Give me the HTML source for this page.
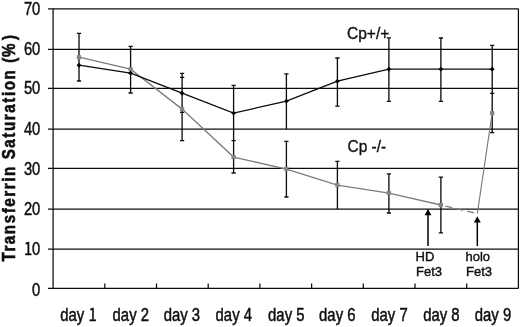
<!DOCTYPE html><html><head><meta charset="utf-8"><title>Transferrin Saturation</title>
<style>html,body{margin:0;padding:0;background:#fff}svg{display:block}text{font-family:"Liberation Sans",sans-serif;fill:#111}</style></head><body>
<svg width="520" height="327" viewBox="0 0 520 327">
<defs><filter id="soft" x="0" y="0" width="100%" height="100%" filterUnits="objectBoundingBox"><feGaussianBlur stdDeviation="0.32"/></filter></defs>
<rect width="520" height="327" fill="#fff"/>
<g filter="url(#soft)">
<rect width="520" height="327" fill="#fff"/>
<g stroke="#0c0c0c" stroke-width="1.25" fill="none">
<line x1="48.00" y1="288.45" x2="518.40" y2="288.45"/>
<line x1="48.00" y1="249.00" x2="518.40" y2="249.00"/>
<line x1="48.00" y1="209.00" x2="518.40" y2="209.00"/>
<line x1="48.00" y1="168.30" x2="518.40" y2="168.30"/>
<line x1="48.00" y1="129.00" x2="518.40" y2="129.00"/>
<line x1="48.00" y1="88.46" x2="518.40" y2="88.46"/>
<line x1="48.00" y1="49.25" x2="518.40" y2="49.25"/>
<line x1="48.00" y1="8.77" x2="518.40" y2="8.77"/>
<line x1="53.10" y1="8.77" x2="53.10" y2="288.45"/>
<line x1="518.40" y1="8.77" x2="518.40" y2="288.45"/>
<line x1="104.80" y1="288.45" x2="104.80" y2="283.45"/>
<line x1="156.50" y1="288.45" x2="156.50" y2="283.45"/>
<line x1="208.20" y1="288.45" x2="208.20" y2="283.45"/>
<line x1="259.90" y1="288.45" x2="259.90" y2="283.45"/>
<line x1="311.60" y1="288.45" x2="311.60" y2="283.45"/>
<line x1="363.30" y1="288.45" x2="363.30" y2="283.45"/>
<line x1="415.00" y1="288.45" x2="415.00" y2="283.45"/>
<line x1="466.70" y1="288.45" x2="466.70" y2="283.45"/>
</g>
<path d="M79.00 33.30V81.00M76.90 33.30H81.10M76.90 81.00H81.10M130.60 46.30V93.00M128.50 46.30H132.70M128.50 93.00H132.70M182.10 73.30V140.70M180.00 73.30H184.20M180.00 77.30H184.20M180.00 112.30H184.20M180.00 140.70H184.20M233.60 85.30V173.00M231.50 85.30H235.70M231.50 140.70H235.70M231.50 173.00H235.70M286.40 73.80V129.30M286.40 141.30V197.00M284.30 73.80H288.50M284.30 141.30H288.50M284.30 197.00H288.50M337.40 58.00V106.10M337.40 161.30V209.30M335.30 58.00H339.50M335.30 106.10H339.50M335.30 161.30H339.50M388.90 37.90V101.30M388.90 173.80V213.00M386.80 37.90H391.00M386.80 101.30H391.00M386.80 173.80H391.00M386.80 213.00H391.00M440.90 38.00V101.30M440.90 177.20V232.90M438.80 38.00H443.00M438.80 101.30H443.00M438.80 177.20H443.00M438.80 232.90H443.00M492.20 45.30V132.60M490.10 45.30H494.30M490.10 93.40H494.30M490.10 132.60H494.30" stroke="#0a0a0a" stroke-width="1.32" fill="none"/>
<polyline points="79.00,57.19 130.60,69.17 182.10,109.12 233.60,157.06 286.40,169.05 337.40,185.03 388.90,193.02 440.90,205.00" fill="none" stroke="#7c7c7c" stroke-width="1.3"/>
<line x1="445.38" y1="206.06" x2="477.3" y2="213.6" stroke="#7c7c7c" stroke-width="1.3" stroke-dasharray="7 4.2"/>
<line x1="477.3" y1="213.6" x2="492.20" y2="113.12" stroke="#7c7c7c" stroke-width="1.15"/>
<rect x="76.80" y="54.99" width="4.4" height="4.4" rx="0.8" fill="#858585"/>
<rect x="128.40" y="66.97" width="4.4" height="4.4" rx="0.8" fill="#858585"/>
<rect x="179.90" y="106.92" width="4.4" height="4.4" rx="0.8" fill="#858585"/>
<rect x="231.40" y="154.86" width="4.4" height="4.4" rx="0.8" fill="#858585"/>
<rect x="284.20" y="166.85" width="4.4" height="4.4" rx="0.8" fill="#858585"/>
<rect x="335.20" y="182.83" width="4.4" height="4.4" rx="0.8" fill="#858585"/>
<rect x="386.70" y="190.82" width="4.4" height="4.4" rx="0.8" fill="#858585"/>
<rect x="438.70" y="202.81" width="4.4" height="4.4" rx="0.8" fill="#858585"/>
<rect x="490.00" y="110.92" width="4.4" height="4.4" rx="0.8" fill="#858585"/>
<polyline points="79.00,65.18 130.60,73.17 182.10,93.14 233.60,113.12 286.40,101.13 337.40,81.16 388.90,69.17 440.90,69.17 492.20,69.17" fill="none" stroke="#0a0a0a" stroke-width="1.2"/>
<path d="M79.00 62.73L81.45 65.18L79.00 67.63L76.55 65.18Z" fill="#000"/>
<path d="M130.60 70.72L133.05 73.17L130.60 75.62L128.15 73.17Z" fill="#000"/>
<path d="M182.10 90.69L184.55 93.14L182.10 95.59L179.65 93.14Z" fill="#000"/>
<path d="M233.60 110.67L236.05 113.12L233.60 115.57L231.15 113.12Z" fill="#000"/>
<path d="M286.40 98.68L288.85 101.13L286.40 103.58L283.95 101.13Z" fill="#000"/>
<path d="M337.40 78.71L339.85 81.16L337.40 83.61L334.95 81.16Z" fill="#000"/>
<path d="M388.90 66.72L391.35 69.17L388.90 71.62L386.45 69.17Z" fill="#000"/>
<path d="M440.90 66.72L443.35 69.17L440.90 71.62L438.45 69.17Z" fill="#000"/>
<path d="M492.20 66.72L494.65 69.17L492.20 71.62L489.75 69.17Z" fill="#000"/>
<path d="M428.0 246V213.0" stroke="#000" stroke-width="1.5" fill="none"/>
<path d="M428.0 209.0L431.45 215.2H424.55Z" fill="#000"/>
<path d="M477.3 246V220.3" stroke="#000" stroke-width="1.5" fill="none"/>
<path d="M477.3 216.3L480.75 222.5H473.85Z" fill="#000"/>
<text x="32.10" y="295.55" font-size="18" textLength="8.2" lengthAdjust="spacingAndGlyphs" stroke="#111" stroke-width="0.5">0</text>
<text x="23.90" y="255.00" font-size="18" textLength="16.4" lengthAdjust="spacingAndGlyphs" stroke="#111" stroke-width="0.5"><tspan font-family="Noto Sans CJK SC, Liberation Sans, sans-serif">1</tspan>0</text>
<text x="23.90" y="215.00" font-size="18" textLength="16.4" lengthAdjust="spacingAndGlyphs" stroke="#111" stroke-width="0.5">20</text>
<text x="23.90" y="175.40" font-size="18" textLength="16.4" lengthAdjust="spacingAndGlyphs" stroke="#111" stroke-width="0.5">30</text>
<text x="23.90" y="135.00" font-size="18" textLength="16.4" lengthAdjust="spacingAndGlyphs" stroke="#111" stroke-width="0.5">40</text>
<text x="23.90" y="94.46" font-size="18" textLength="16.4" lengthAdjust="spacingAndGlyphs" stroke="#111" stroke-width="0.5">50</text>
<text x="23.90" y="55.25" font-size="18" textLength="16.4" lengthAdjust="spacingAndGlyphs" stroke="#111" stroke-width="0.5">60</text>
<text x="23.90" y="14.77" font-size="18" textLength="16.4" lengthAdjust="spacingAndGlyphs" stroke="#111" stroke-width="0.5">70</text>
<text x="60.30" y="321.4" font-size="18" textLength="36.4" lengthAdjust="spacingAndGlyphs" stroke="#111" stroke-width="0.5">day <tspan font-family="Noto Sans CJK SC, Liberation Sans, sans-serif">1</tspan></text>
<text x="112.60" y="321.4" font-size="18" textLength="36.4" lengthAdjust="spacingAndGlyphs" stroke="#111" stroke-width="0.5">day 2</text>
<text x="163.70" y="321.4" font-size="18" textLength="36.4" lengthAdjust="spacingAndGlyphs" stroke="#111" stroke-width="0.5">day 3</text>
<text x="215.60" y="321.4" font-size="18" textLength="36.4" lengthAdjust="spacingAndGlyphs" stroke="#111" stroke-width="0.5">day 4</text>
<text x="268.10" y="321.4" font-size="18" textLength="36.4" lengthAdjust="spacingAndGlyphs" stroke="#111" stroke-width="0.5">day 5</text>
<text x="319.10" y="321.4" font-size="18" textLength="36.4" lengthAdjust="spacingAndGlyphs" stroke="#111" stroke-width="0.5">day 6</text>
<text x="371.30" y="321.4" font-size="18" textLength="36.4" lengthAdjust="spacingAndGlyphs" stroke="#111" stroke-width="0.5">day 7</text>
<text x="423.20" y="321.4" font-size="18" textLength="36.4" lengthAdjust="spacingAndGlyphs" stroke="#111" stroke-width="0.5">day 8</text>
<text x="474.80" y="321.4" font-size="18" textLength="36.4" lengthAdjust="spacingAndGlyphs" stroke="#111" stroke-width="0.5">day 9</text>
<text x="347.0" y="38.5" font-size="16.5" textLength="42.3" lengthAdjust="spacingAndGlyphs" stroke="#111" stroke-width="0.35">Cp+/+</text>
<text x="347.6" y="151.9" font-size="16.2" textLength="38.6" lengthAdjust="spacingAndGlyphs" stroke="#111" stroke-width="0.35">Cp -/-</text>
<text x="415.5" y="261.4" font-size="13" stroke="#111" stroke-width="0.4">HD</text>
<text x="416" y="276.4" font-size="13" stroke="#111" stroke-width="0.4">Fet3</text>
<text x="465.5" y="261.4" font-size="13" stroke="#111" stroke-width="0.4">holo</text>
<text x="466" y="276.4" font-size="13" stroke="#111" stroke-width="0.4">Fet3</text>
<text transform="translate(15.4 261.6) rotate(-90) scale(0.86 1)" font-size="17.6" font-weight="bold" textLength="263.5" lengthAdjust="spacing" stroke="#111" stroke-width="0.6">Transferrin Saturation (<tspan dx="-1.0">%</tspan><tspan dx="2.3">)</tspan></text>
</g>
</svg></body></html>
